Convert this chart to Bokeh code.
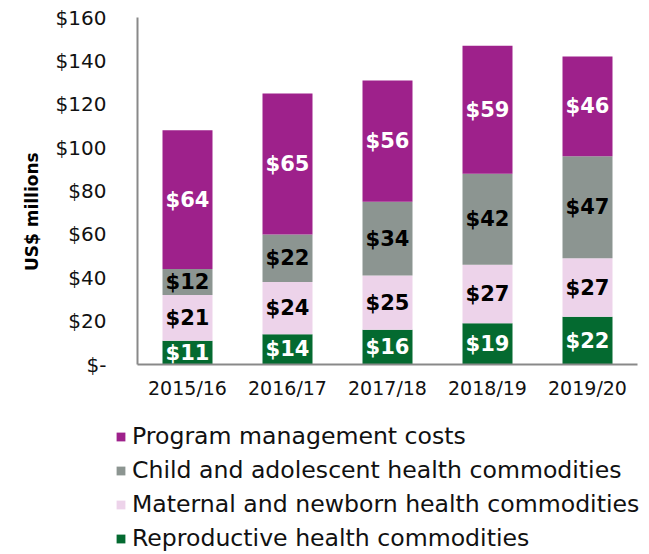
import numpy as np
from bokeh.plotting import figure
from bokeh.layouts import column
from bokeh.models import ColumnDataSource, FactorRange, Range1d, FixedTicker, Legend, LegendItem
from bokeh.core.properties import value
from bokeh.embed import file_html
from bokeh.resources import INLINE

years = ["2015/16", "2016/17", "2017/18", "2018/19", "2019/20"]
reproductive = [11, 14, 16, 19, 22]
maternal = [21, 24, 25, 27, 27]
child = [12, 22, 34, 42, 47]
program = [64, 65, 56, 59, 46]

series_keys = ["reproductive", "maternal", "child", "program"]
series_names = ["Reproductive health commodities", "Maternal and newborn health commodities",
                "Child and adolescent health commodities", "Program management costs"]
colors = ["#046A30", "#EDD3EA", "#8C9591", "#9E218B"]
label_colors = ["white", "black", "black", "white"]

y_ticks = [0, 20, 40, 60, 80, 100, 120, 140, 160]
y_tick_labels = ["$-", "$20", "$40", "$60", "$80", "$100", "$120", "$140", "$160"]

FONT = "DejaVu Sans"

data = dict(years=years, reproductive=reproductive, maternal=maternal, child=child, program=program)
src = ColumnDataSource(data)

p = figure(x_range=FactorRange(factors=years, range_padding=0), y_range=Range1d(0, 160),
           frame_width=500, frame_height=347, output_backend="svg", toolbar_location=None,
           min_border_left=137, min_border_right=2, min_border_top=17, min_border_bottom=0)
p.outline_line_color = None
p.grid.grid_line_color = None

renderers = p.vbar_stack(series_keys, x="years", width=0.5, color=colors, source=src, line_color=None)

# segment labels
vals = [reproductive, maternal, child, program]
bottom = np.zeros(len(years))
for v, c in zip(vals, label_colors):
    v = np.array(v, dtype=float)
    mid = bottom + v / 2
    p.text(x=years, y=list(mid), text=["$%d" % x for x in v], text_align="center",
           text_baseline="middle", text_color=c, text_font=value(FONT), text_font_style="bold",
           text_font_size="21px")
    bottom = bottom + v

# axes
p.yaxis.ticker = FixedTicker(ticks=y_ticks)
p.yaxis.major_label_overrides = {t: l for t, l in zip(y_ticks, y_tick_labels)}
for ax in (p.xaxis[0], p.yaxis[0]):
    ax.axis_line_color = "#898989"
    ax.axis_line_width = 2
    ax.major_tick_line_color = None
    ax.minor_tick_line_color = None
    ax.major_label_text_font = FONT
    ax.major_label_text_color = "#111111"
p.yaxis.major_label_text_font_size = "20px"
p.yaxis.major_label_standoff = 25
p.xaxis.major_label_text_font_size = "19px"
p.xaxis.major_label_standoff = 6
p.yaxis.axis_label = "US$ millions" + "\u00a0" * 7
p.yaxis.axis_label_text_font = FONT
p.yaxis.axis_label_text_font_style = "bold"
p.yaxis.axis_label_text_font_size = "17px"
p.yaxis.axis_label_text_color = "black"
p.yaxis.axis_label_standoff = 11

# legend in its own strip below the chart (swatches only, no drawn data)
lg = figure(frame_width=639, frame_height=151, output_backend="svg", toolbar_location=None,
            x_axis_type=None, y_axis_type=None, min_border=0)
lg.outline_line_color = None
lg.grid.grid_line_color = None
dummy = [lg.vbar(x=[np.nan], top=[np.nan], width=0.5, color=c, line_color=None) for c in colors]
items = [LegendItem(label=n, renderers=[r]) for n, r in zip(series_names, dummy)][::-1]
legend = Legend(items=items, location=(115, 0), orientation="vertical",
                label_text_font=FONT, label_text_font_size="23.6px", label_text_color="#111111",
                glyph_width=11, glyph_height=11, label_standoff=6, spacing=6,
                padding=0, margin=0, border_line_color=None, background_fill_alpha=0,
                label_height=25)
lg.add_layout(legend, "center")

layout = column(p, lg, spacing=0)
open("out.html", "w").write(file_html(layout, INLINE))
